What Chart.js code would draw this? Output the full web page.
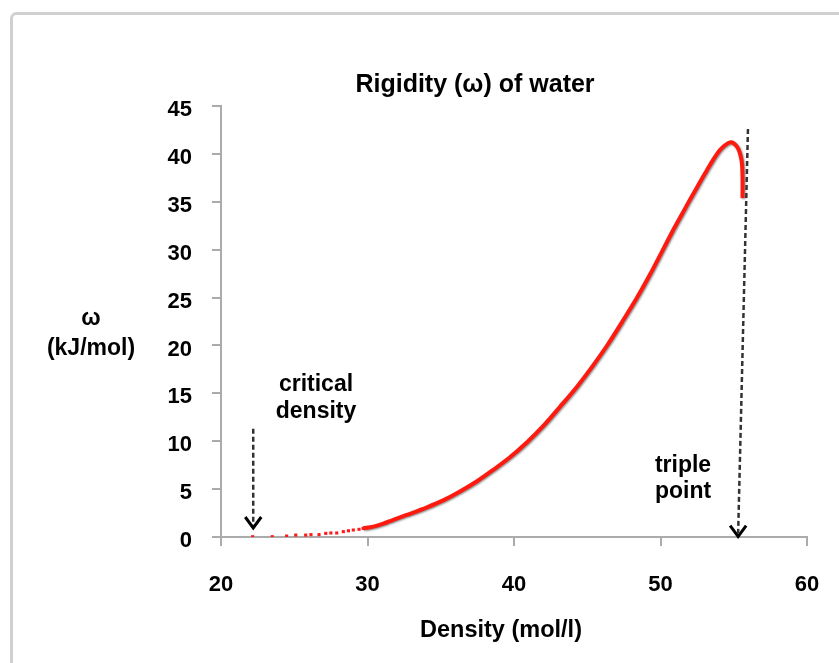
<!DOCTYPE html>
<html>
<head>
<meta charset="utf-8">
<script src="https://cdn.jsdelivr.net/npm/chart.js@4.4.0/dist/chart.umd.min.js"></script>
<style>
  body { margin: 0; background: #fff; }
  canvas { display: block; }
</style>
</head>
<body>
<canvas id="rigidity" width="839" height="663"></canvas>
<script>
// low density end: separate dots
const dotDensity = [22.16, 23.5, 24.48, 25.1, 25.78, 26.14, 26.69, 27.15, 27.5, 27.9, 28.35, 28.7, 29.03, 29.42, 29.7];
const dotOmega   = [0.03, 0.03, 0.1, 0.2, 0.2, 0.25, 0.25, 0.38, 0.42, 0.42, 0.56, 0.65, 0.73, 0.8, 0.9];

// dense part of the curve (reads as a solid line)
const curveDensity = [29.7, 30.05, 30.4, 31.08, 31.76, 32.67, 34.06, 35.2, 36.31, 37.5, 38.57, 39.7, 40.89, 42.0, 43.14,
                      44.3, 45.39, 46.4, 47.44, 48.4, 49.28, 50.1, 50.85, 51.5, 52.0, 52.6, 53.17, 53.6, 54.06, 54.4,
                      54.74, 55.0, 55.29, 55.45, 55.56, 55.6, 55.6];
const curveOmega   = [0.9, 1.0, 1.08, 1.4, 1.8, 2.3, 3.1, 3.85, 4.75, 5.85, 7.0, 8.3, 9.9, 11.6, 13.6,
                      15.7, 17.9, 20.1, 22.6, 25.0, 27.4, 29.8, 32.0, 33.8, 35.2, 36.8, 38.3, 39.4, 40.4, 40.9,
                      41.2, 41.1, 40.6, 39.9, 39.0, 37.5, 35.4];

const xTicks = [20, 30, 40, 50, 60];
const yTicks = [0, 5, 10, 15, 20, 25, 30, 35, 40, 45];

// arrows, in data units: [density, omega] of the tail and of the tip
const criticalArrow = { tail: [22.2, 11.3], tip: [22.2, 0.94] };
const tripleArrow   = { tail: [55.97, 42.6], tip: [55.3, 0.05] };

const boldFont = sz => 'bold ' + sz + 'px "Liberation Sans", Arial, sans-serif';

const decorations = {
  id: 'decorations',
  beforeDraw(chart) {
    const ctx = chart.ctx;
    ctx.save();
    ctx.fillStyle = '#fff';
    ctx.fillRect(0, 0, chart.width, chart.height);
    // gray frame around the figure (only top and left are inside the picture)
    ctx.strokeStyle = '#d0d0d0';
    ctx.lineWidth = 3;
    ctx.beginPath();
    ctx.roundRect(11.5, 13.5, 1000, 1000, 5);
    ctx.stroke();
    ctx.restore();
  },
  beforeDatasetDraw(chart, args) {
    if (args.index !== 1) return;
    const ctx = chart.ctx;
    ctx.save();
    ctx.shadowColor = 'rgba(0,0,0,0.45)';
    ctx.shadowBlur = 2;
    ctx.shadowOffsetX = 1;
    ctx.shadowOffsetY = 1;
  },
  afterDatasetDraw(chart, args) {
    if (args.index !== 1) return;
    chart.ctx.restore();
  },
  afterDraw(chart) {
    const ctx = chart.ctx;
    const xs = chart.scales.x, ys = chart.scales.y;
    const px = p => [xs.getPixelForValue(p[0]), ys.getPixelForValue(p[1])];

    ctx.save();
    ctx.fillStyle = '#000';
    ctx.textAlign = 'center';
    ctx.textBaseline = 'alphabetic';

    ctx.font = boldFont(25);
    ctx.fillText('Rigidity (ω) of water', 475, 92);

    ctx.font = boldFont(23.5);
    ctx.fillText('Density (mol/l)', 501, 637);

    ctx.font = boldFont(23);
    ctx.fillText('ω', 91, 325);
    ctx.fillText('(kJ/mol)', 91, 355);

    ctx.fillText('critical', 316, 391);
    ctx.fillText('density', 316, 418);
    ctx.fillText('triple', 683, 472);
    ctx.fillText('point', 683, 498);

    [criticalArrow, tripleArrow].forEach(a => {
      const [x0, y0] = px(a.tail);
      const [x1, y1] = px(a.tip);
      ctx.strokeStyle = '#333';
      ctx.lineWidth = 2.5;
      ctx.setLineDash([5, 3]);
      ctx.beginPath();
      ctx.moveTo(x0, y0);
      ctx.lineTo(x1, y1 - 3);
      ctx.stroke();
      ctx.setLineDash([]);
      ctx.strokeStyle = '#000';
      ctx.lineWidth = 3;
      ctx.lineJoin = 'miter';
      ctx.beginPath();
      ctx.moveTo(x1 - 8, y1 - 11);
      ctx.lineTo(x1, y1);
      ctx.lineTo(x1 + 8, y1 - 11);
      ctx.stroke();
    });
    ctx.restore();
  }
};

const axisGray = '#ababab';

new Chart(document.getElementById('rigidity'), {
  type: 'scatter',
  data: {
    datasets: [
      {
        data: dotDensity.map((d, i) => ({ x: d, y: dotOmega[i] })),
        backgroundColor: '#ff1a1a',
        borderWidth: 0,
        pointStyle: 'rect',
        pointRadius: 2.2,
        showLine: false
      },
      {
        data: curveDensity.map((d, i) => ({ x: d, y: curveOmega[i] })),
        borderColor: '#ff1a10',
        borderWidth: 4,
        pointRadius: 0,
        showLine: true,
        tension: 0.3
      }
    ]
  },
  options: {
    responsive: false,
    animation: false,
    devicePixelRatio: 1,
    layout: { padding: { left: 0, right: 32, top: 106, bottom: 0 } },
    plugins: { legend: { display: false }, tooltip: { enabled: false }, title: { display: false } },
    scales: {
      x: {
        type: 'linear',
        min: xTicks[0],
        max: xTicks[xTicks.length - 1],
        afterBuildTicks: s => { s.ticks = xTicks.map(v => ({ value: v })); },
        afterFit: s => { s.height = 126; s.paddingLeft = 0; s.paddingRight = 0; },
        grid: { drawOnChartArea: false, drawTicks: true, tickLength: 9, color: axisGray, lineWidth: 2 },
        border: { color: axisGray, width: 2 },
        ticks: { color: '#000', font: { family: '"Liberation Sans", Arial, sans-serif', size: 22, weight: 'bold' }, padding: 26, maxRotation: 0 }
      },
      y: {
        type: 'linear',
        min: yTicks[0],
        max: yTicks[yTicks.length - 1],
        afterBuildTicks: s => { s.ticks = yTicks.map(v => ({ value: v })); },
        afterFit: s => { s.width = 221; s.paddingTop = 0; s.paddingBottom = 0; },
        grid: { drawOnChartArea: false, drawTicks: true, tickLength: 9, color: axisGray, lineWidth: 2 },
        border: { color: axisGray, width: 2 },
        ticks: { color: '#000', font: { family: '"Liberation Sans", Arial, sans-serif', size: 22, weight: 'bold' }, padding: 20, labelOffset: 4 }
      }
    }
  },
  plugins: [decorations]
});
</script>
</body>
</html>
